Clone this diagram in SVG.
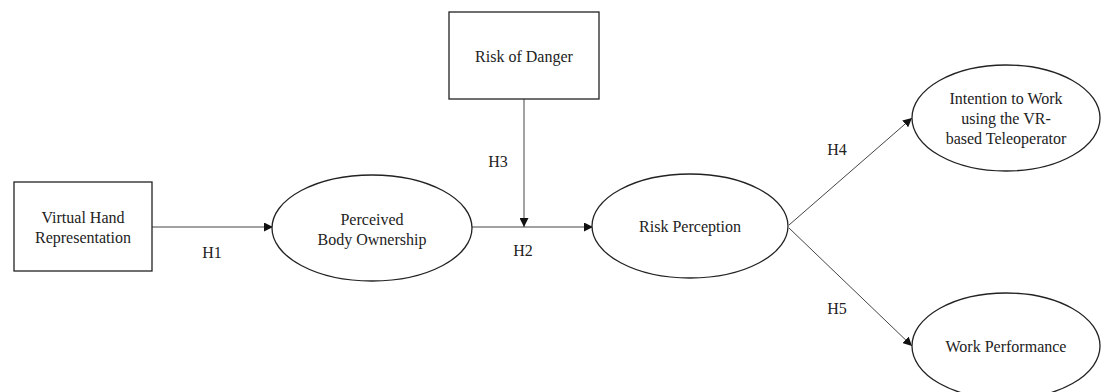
<svg xmlns="http://www.w3.org/2000/svg" width="1101" height="392" viewBox="0 0 1101 392">
<style>
.n{fill:#fff;stroke:#222;stroke-width:1.3}
.t{font-family:"Liberation Serif","Times New Roman",serif;font-size:16px;fill:#222;text-anchor:middle}
.e{stroke:#444;stroke-width:1;fill:none;marker-end:url(#a)}
</style>
<defs>
<marker id="a" viewBox="0 0 10 10" refX="10" refY="5" markerWidth="9" markerHeight="9" markerUnits="userSpaceOnUse" orient="auto">
<path d="M0,0 L10,5 L0,10 z" fill="#111"/>
</marker>
</defs>
<rect width="1101" height="392" fill="#fff"/>
<g id="connectors">
<line class="e" x1="152" y1="227" x2="273" y2="227"/>
<line class="e" x1="472" y1="227" x2="593" y2="227"/>
<line class="e" x1="524" y1="99" x2="524" y2="227"/>
<line class="e" x1="789" y1="225" x2="912" y2="118"/>
<line class="e" x1="789" y1="228" x2="912" y2="346"/>
<text class="t" x="212" y="258">H1</text>
<text class="t" x="523" y="256">H2</text>
<text class="t" x="498" y="167">H3</text>
<text class="t" x="837" y="155">H4</text>
<text class="t" x="837" y="314">H5</text>
</g>
<g id="vhr">
<rect class="n" x="14" y="182" width="138" height="89"/>
<text class="t" x="83" y="223">Virtual Hand</text>
<text class="t" x="83" y="243">Representation</text>
</g>
<g id="pbo">
<ellipse class="n" cx="372" cy="228" rx="100" ry="53"/>
<text class="t" x="372" y="225">Perceived</text>
<text class="t" x="372" y="245">Body Ownership</text>
</g>
<g id="rod">
<rect class="n" x="449" y="12" width="150" height="87"/>
<text class="t" x="524" y="62">Risk of Danger</text>
</g>
<g id="rp">
<ellipse class="n" cx="690" cy="226" rx="98" ry="52"/>
<text class="t" x="690" y="232">Risk Perception</text>
</g>
<g id="itw">
<ellipse class="n" cx="1006" cy="118" rx="94" ry="53"/>
<text class="t" x="1006" y="104">Intention to Work</text>
<text class="t" x="1006" y="124">using the VR-</text>
<text class="t" x="1006" y="144">based Teleoperator</text>
</g>
<g id="wp">
<ellipse class="n" cx="1006" cy="346" rx="94" ry="53"/>
<text class="t" x="1006" y="352">Work Performance</text>
</g>
</svg>
